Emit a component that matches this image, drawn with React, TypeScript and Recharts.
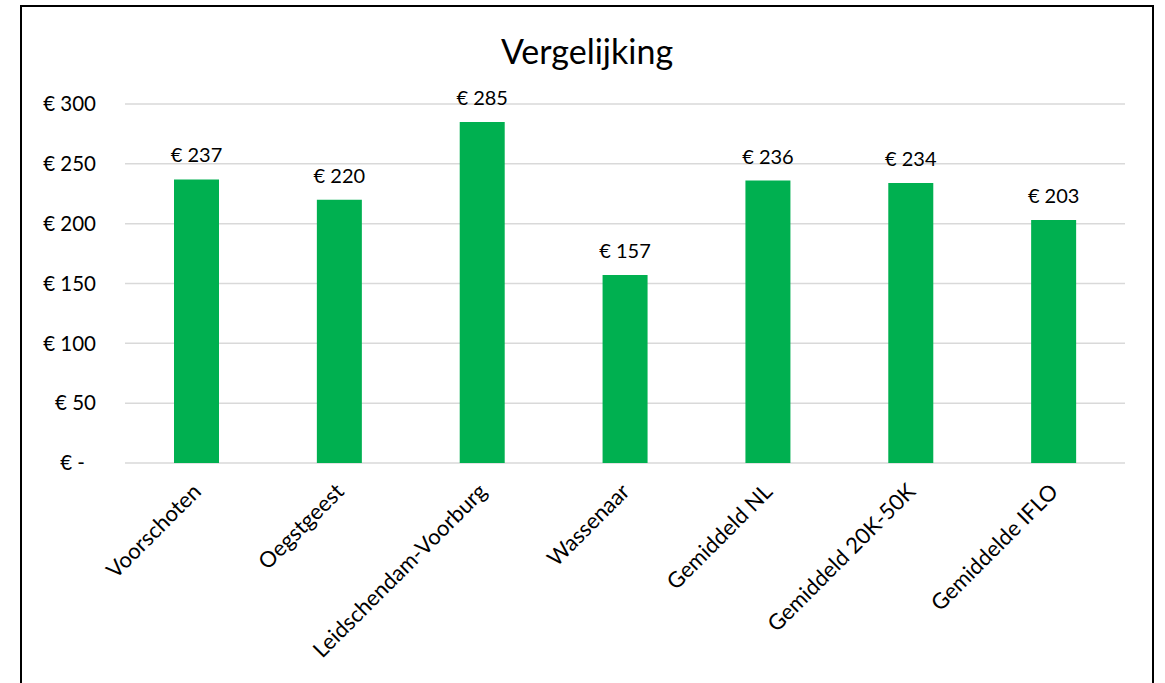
import React from "react";
import { BarChart, Bar, XAxis, YAxis, CartesianGrid, LabelList } from "recharts";

const categories = [
  "Voorschoten",
  "Oegstgeest",
  "Leidschendam-Voorburg",
  "Wassenaar",
  "Gemiddeld NL",
  "Gemiddeld 20K-50K",
  "Gemiddelde IFLO",
];
const values = [237, 220, 285, 157, 236, 234, 203];
const yTicks = [0, 50, 100, 150, 200, 250, 300];
const title = "Vergelijking";

const data = categories.map((name, i) => ({ name, value: values[i] }));

const FONT = "Lato, 'Liberation Sans', sans-serif";

const fmtEuro = (v: number) => (v === 0 ? "€ -" : `€ ${v}`);

const YTick = (props: any) => {
  const { x, y, payload } = props;
  const v = payload.value as number;
  return (
    <text
      x={v === 0 ? x - 11 : x}
      y={y}
      dy="0.35em"
      textAnchor="end"
      fontFamily={FONT}
      fontSize={20.5}
      fill="#000"
    >
      {fmtEuro(v)}
    </text>
  );
};

const XTick = (props: any) => {
  const { x, y, payload } = props;
  return (
    <g transform={`translate(${x + 6},${y + 22})`}>
      <text
        x={0}
        y={0}
        textAnchor="end"
        transform="rotate(-45)"
        fontFamily={FONT}
        fontSize={22}
        fill="#000"
      >
        {payload.value}
      </text>
    </g>
  );
};

export default function App() {
  return (
    <div
      style={{
        position: "absolute",
        left: 20,
        top: 5,
        width: 1130,
        height: 700,
        border: "2px solid #000",
        background: "#fff",
      }}
    >
      <div
        style={{
          position: "absolute",
          left: 0,
          width: "100%",
          top: 24,
          textAlign: "center",
          fontFamily: FONT,
          fontSize: 34,
          color: "#000",
          lineHeight: "40px",
        }}
      >
        {title}
      </div>
      <BarChart
        width={1130}
        height={690}
        data={data}
        margin={{ top: 97, right: 27, left: 0, bottom: 84 }}
        style={{ position: "absolute", left: 0, top: 0 }}
      >
        <CartesianGrid vertical={false} stroke="#d9d9d9" strokeWidth={1.5} />
        <XAxis
          dataKey="name"
          axisLine={false}
          tickLine={false}
          interval={0}
          height={150}
          tick={<XTick />}
        />
        <YAxis
          domain={[0, 300]}
          ticks={yTicks}
          axisLine={false}
          tickLine={false}
          tickSize={0}
          tickMargin={29}
          width={103}
          tick={<YTick />}
        />
        <Bar dataKey="value" fill="#00B050" barSize={45} isAnimationActive={false}>
          <LabelList
            dataKey="value"
            position="top"
            offset={17}
            formatter={(v: any) => fmtEuro(Number(v))}
            style={{ fontFamily: FONT, fontSize: 20, fill: "#000" }}
          />
        </Bar>
      </BarChart>
    </div>
  );
}
